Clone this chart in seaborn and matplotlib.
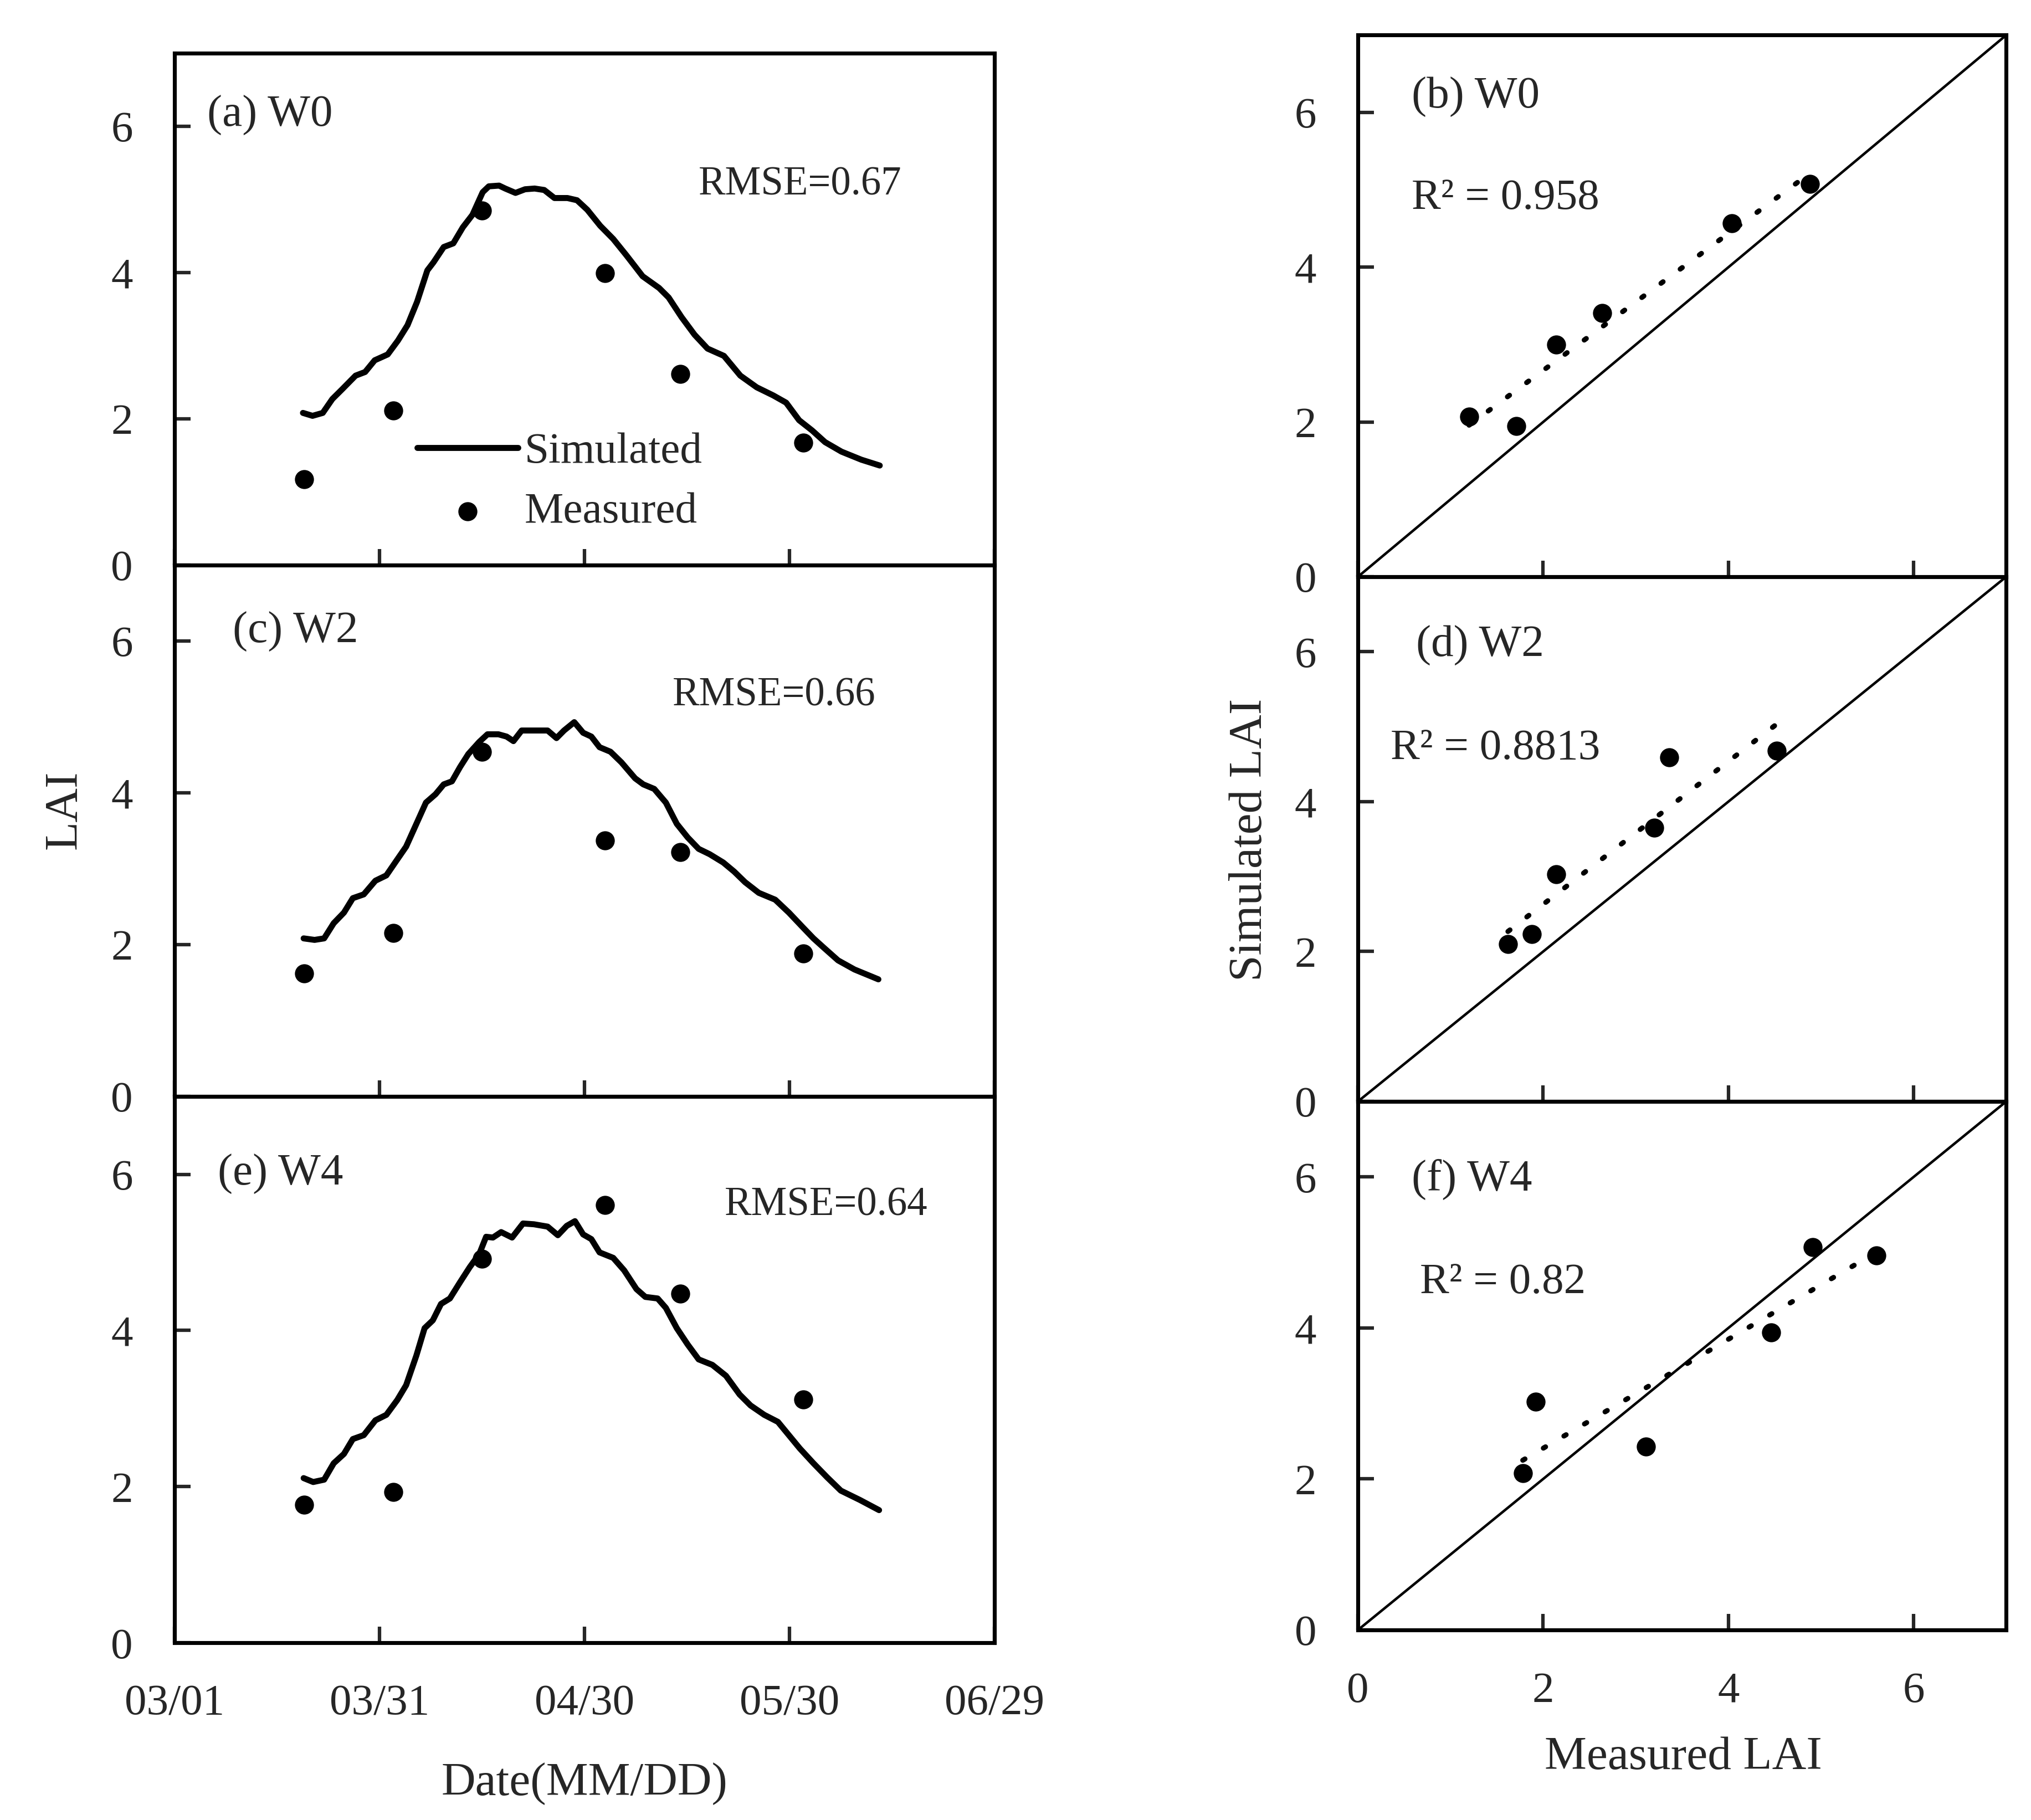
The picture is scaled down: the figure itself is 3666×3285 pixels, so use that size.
import numpy as np
import pandas as pd
import matplotlib
matplotlib.use("Agg")
import matplotlib.pyplot as plt
import matplotlib.dates as mdates
import seaborn as sns

# ---------------- data ----------------
# days after 03/01 for simulated curves
sim_a_day = [18.8,20.2,21.7,23.1,24.5,26.5,27.9,29.3,31.2,32.7,34.1,35.5,37.0,37.9,39.4,40.8,42.2,43.6,45.1,46.0,
             47.5,48.4,49.9,51.3,52.7,54.1,55.6,57.5,58.9,60.4,62.3,64.2,66.1,68.5,70.9,72.3,74.2,76.1,78.0,80.4,
             82.8,85.2,87.6,89.5,91.4,93.3,95.2,97.6,100.5,103.2]
sim_a = [2.08,2.04,2.08,2.27,2.40,2.59,2.64,2.80,2.88,3.07,3.28,3.60,4.03,4.14,4.35,4.40,4.62,4.79,5.10,5.18,
         5.19,5.15,5.09,5.14,5.15,5.13,5.02,5.02,4.99,4.86,4.64,4.46,4.24,3.95,3.79,3.66,3.39,3.15,2.96,2.86,
         2.59,2.43,2.32,2.22,1.98,1.84,1.68,1.55,1.44,1.36]

sim_c_day = [18.9,20.5,21.9,23.3,24.8,26.1,27.7,29.4,31.0,32.6,33.9,35.4,36.8,38.2,39.4,40.6,41.8,43.0,44.6,45.8,
             47.4,48.6,49.6,50.8,52.6,54.6,55.9,57.0,58.5,59.8,61.0,62.2,63.8,65.4,67.4,68.6,70.2,71.9,73.5,75.1,
             76.7,78.3,80.3,81.9,83.5,85.5,87.9,89.9,91.9,93.5,95.1,97.1,99.5,103.0]
sim_c = [2.08,2.06,2.08,2.28,2.42,2.61,2.66,2.84,2.91,3.12,3.29,3.59,3.87,3.98,4.11,4.15,4.34,4.51,4.67,4.77,
         4.77,4.74,4.68,4.82,4.82,4.82,4.72,4.82,4.93,4.79,4.74,4.60,4.54,4.40,4.19,4.11,4.05,3.87,3.59,3.41,
         3.26,3.19,3.08,2.96,2.82,2.68,2.59,2.42,2.23,2.08,1.95,1.79,1.67,1.54]

sim_e_day = [18.9,20.3,21.9,23.3,24.8,26.1,27.7,29.4,31.0,32.6,33.9,35.4,36.6,37.8,39.0,40.3,41.8,43.2,44.6,45.6,
             46.6,47.8,49.4,51.0,52.6,54.6,56.1,57.4,58.6,59.8,61.0,62.2,64.2,65.8,67.6,68.9,70.7,71.9,73.5,75.1,
             76.7,78.7,80.7,82.7,84.3,86.3,88.3,89.9,91.5,93.5,95.5,97.5,100.3,103.1]
sim_e = [2.11,2.06,2.09,2.30,2.42,2.61,2.66,2.85,2.92,3.11,3.30,3.68,4.03,4.13,4.34,4.41,4.62,4.81,4.98,5.20,
         5.19,5.26,5.19,5.37,5.36,5.33,5.22,5.34,5.40,5.23,5.17,5.00,4.93,4.77,4.53,4.43,4.41,4.29,4.03,3.82,
         3.63,3.56,3.42,3.18,3.04,2.92,2.83,2.66,2.49,2.30,2.12,1.95,1.83,1.70]

meas_day = [19, 32, 45, 63, 74, 92]
meas_a = [1.17, 2.11, 4.85, 3.99, 2.61, 1.67]
meas_c = [1.62, 2.15, 4.54, 3.37, 3.22, 1.88]
meas_e = [1.77, 1.93, 4.92, 5.61, 4.47, 3.12]

# scatter panels (measured vs simulated)
b_meas = [1.20, 1.71, 2.14, 2.64, 4.04, 4.88]
b_sim = [2.07, 1.95, 3.00, 3.41, 4.57, 5.08]
d_meas = [1.62, 1.88, 2.14, 3.20, 3.36, 4.52]
d_sim = [2.10, 2.23, 3.03, 3.65, 4.59, 4.68]
f_meas = [1.78, 1.92, 3.11, 4.46, 4.91, 5.60]
f_sim = [2.08, 3.02, 2.43, 3.94, 5.07, 4.96]

date_ticks = ["03/01", "03/31", "04/30", "05/30", "06/29"]
lai_ticks = [0, 2, 4, 6]
left_titles = ["(a) W0", "(c) W2", "(e) W4"]
right_titles = ["(b) W0", "(d) W2", "(f) W4"]
rmse_texts = ["RMSE=0.67", "RMSE=0.66", "RMSE=0.64"]
r2_texts = ["R\u00b2 = 0.958", "R\u00b2 = 0.8813", "R\u00b2 = 0.82"]

# ---------------- style ----------------
sns.set_theme(style="ticks")
plt.rcParams["font.family"] = ["Liberation Serif", "DejaVu Serif"]
plt.rcParams["axes.linewidth"] = 1.7
plt.rcParams["xtick.direction"] = "in"
plt.rcParams["ytick.direction"] = "in"

YEAR = "2021/"
base = pd.Timestamp(YEAR + "03/01")


def to_dates(days):
    return base + pd.to_timedelta(np.asarray(days, dtype=float), unit="D")


tick_dates = [pd.Timestamp(YEAR + t) for t in date_ticks]
tick_nums = mdates.date2num(tick_dates)

fig = plt.figure(figsize=(3666 / 300, 3285 / 300), dpi=300)

left_pos = [(0.0859, 0.6896, 0.4038, 0.2811),
            (0.0859, 0.3977, 0.4038, 0.2918),
            (0.0859, 0.0973, 0.4038, 0.3004)]
right_pos = [(0.6686, 0.6831, 0.3192, 0.2976),
             (0.6686, 0.3948, 0.3192, 0.2883),
             (0.6686, 0.1044, 0.3192, 0.2904)]

sims = [(sim_a_day, sim_a), (sim_c_day, sim_c), (sim_e_day, sim_e)]
meas = [meas_a, meas_c, meas_e]
title_xy = [(4.8, 6.15), (8.5, 6.12), (6.3, 6.0)]
rmse_xy = [(76.7, 5.2), (72.9, 5.28), (80.5, 5.6)]

TICK_FS = 19
MS = 68
for i in range(3):
    ax = fig.add_axes(left_pos[i])
    ax.patch.set_alpha(0)
    sdf = pd.DataFrame({"date": to_dates(sims[i][0]), "LAI": sims[i][1]})
    mdf = pd.DataFrame({"date": to_dates(meas_day), "LAI": meas[i]})
    sns.lineplot(data=sdf, x="date", y="LAI", ax=ax, color="black", lw=2.6,
                 label="Simulated", legend=False)
    sns.scatterplot(data=mdf, x="date", y="LAI", ax=ax, color="black", s=MS,
                    edgecolor="black", linewidth=0, label="Measured", legend=False, zorder=3)
    ax.set_xlim(tick_nums[0], tick_nums[-1])
    ax.set_ylim(0, 7)
    ax.set_xticks(tick_nums)
    ax.set_yticks(lai_ticks)
    ax.set_yticklabels([str(t) for t in lai_ticks], fontsize=TICK_FS)
    if i == 2:
        ax.set_xticklabels(date_ticks, fontsize=TICK_FS)
    else:
        ax.set_xticklabels([])
    ax.tick_params(axis="both", length=7, width=1.5, direction="in", pad=18,
                   top=False, right=False)
    ax.set_xlabel("")
    ax.set_ylabel("")
    for sp in ax.spines.values():
        sp.set_linewidth(1.7)
        sp.set_color("black")
    tx = mdates.date2num(base + pd.Timedelta(days=title_xy[i][0]))
    ax.text(tx, title_xy[i][1], left_titles[i], fontsize=19.5, va="center", ha="left")
    rx = mdates.date2num(base + pd.Timedelta(days=rmse_xy[i][0]))
    ax.text(rx, rmse_xy[i][1], rmse_texts[i], fontsize=17.5, va="center", ha="left")
    if i == 0:
        h, l = ax.get_legend_handles_labels()
        ax.legend(h, l, loc="center left", bbox_to_anchor=(0.296, 0.162), frameon=False,
                  fontsize=19, handlelength=2.3, handletextpad=0.15, borderpad=0,
                  borderaxespad=0, labelspacing=0.45)

scat = [(b_meas, b_sim), (d_meas, d_sim), (f_meas, f_sim)]
rt_xy = [(0.58, 6.2), (0.63, 6.08), (0.58, 5.97)]
r2_xy = [(0.58, 4.89), (0.35, 4.71), (0.67, 4.60)]
diag = [0, 7]
for i in range(3):
    ax = fig.add_axes(right_pos[i])
    ax.patch.set_alpha(0)
    df = pd.DataFrame({"Measured": scat[i][0], "Simulated": scat[i][1]})
    sns.lineplot(x=diag, y=diag, ax=ax, color="black", lw=1.1)
    sns.regplot(data=df, x="Measured", y="Simulated", ax=ax, ci=None, scatter=False,
                truncate=True,
                line_kws=dict(color="black", lw=2.2, ls=(0, (0.5, 4.2)),
                              dash_capstyle="round"))
    sns.scatterplot(data=df, x="Measured", y="Simulated", ax=ax, color="black", s=MS,
                    linewidth=0, zorder=3, legend=False)
    ax.set_xlim(0, 7)
    ax.set_ylim(0, 7)
    ax.set_xticks(lai_ticks)
    ax.set_yticks(lai_ticks)
    ax.set_yticklabels([str(t) for t in lai_ticks], fontsize=TICK_FS)
    if i == 2:
        ax.set_xticklabels([str(t) for t in lai_ticks], fontsize=TICK_FS)
    else:
        ax.set_xticklabels([])
    ax.tick_params(axis="both", length=7, width=1.5, direction="in", pad=18,
                   top=False, right=False)
    ax.set_xlabel("")
    ax.set_ylabel("")
    for sp in ax.spines.values():
        sp.set_linewidth(1.7)
        sp.set_color("black")
    ax.text(rt_xy[i][0], rt_xy[i][1], right_titles[i], fontsize=19.5, va="center", ha="left")
    ax.text(r2_xy[i][0], r2_xy[i][1], r2_texts[i], fontsize=19, va="center", ha="left")

fig.text(0.032, 0.555, "LAI", rotation=90, fontsize=20.5, ha="center", va="center")
fig.text(0.2878, 0.020, "Date(MM/DD)", fontsize=20.5, ha="center", va="center")
fig.text(0.6154, 0.5386, "Simulated LAI", rotation=90, fontsize=20.5, ha="center", va="center")
fig.text(0.8288, 0.0343, "Measured LAI", fontsize=20.5, ha="center", va="center")

fig.savefig("out.png", dpi=300, facecolor="white")
